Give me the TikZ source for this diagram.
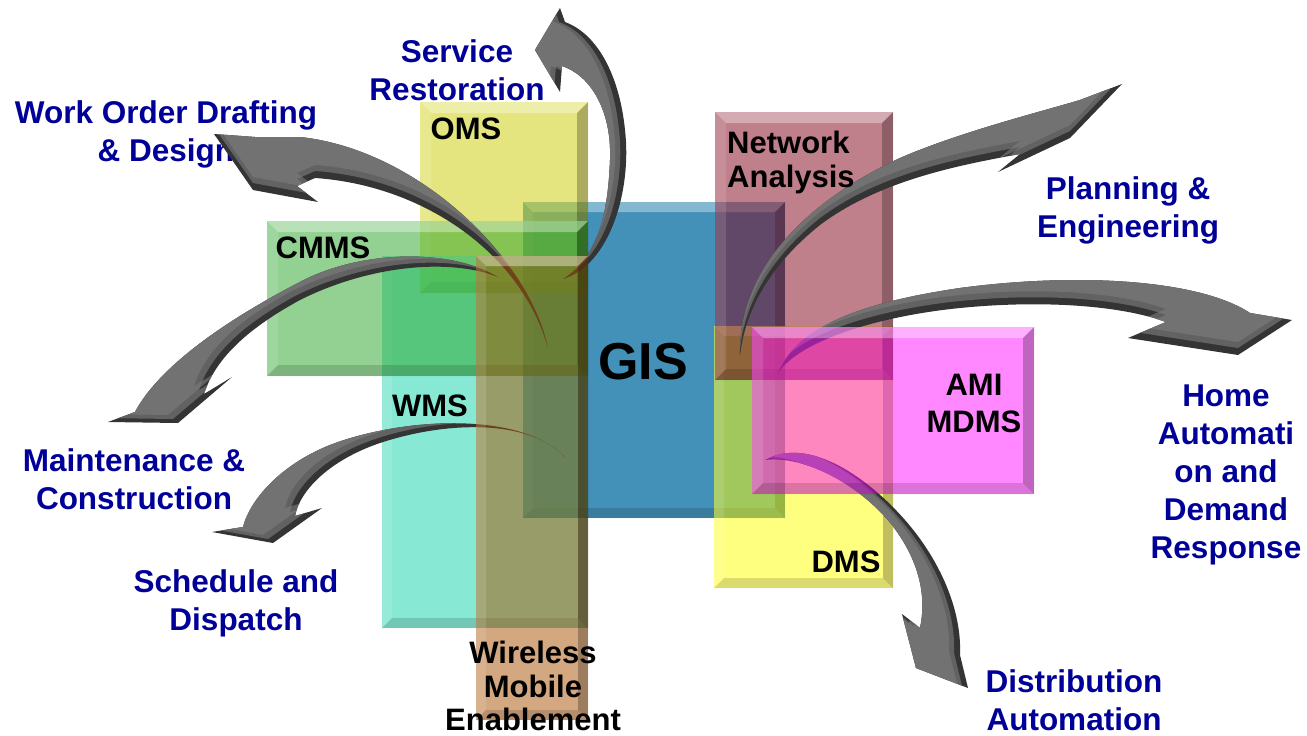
\documentclass[tikz,border=0pt]{standalone}
\usepackage{fontspec}
\setmainfont{Liberation Sans}

% box colours (used at half opacity, GIS opaque)
\definecolor{gisc}{RGB}{67,145,185}
\definecolor{omsc}{RGB}{205,205,0}
\definecolor{wmsc}{RGB}{17,213,169}
\definecolor{cmmsc}{RGB}{39,165,39}
\definecolor{dmsc}{RGB}{255,255,0}
\definecolor{netc}{RGB}{129,1,25}
\definecolor{wirec}{RGB}{169,81,1}
\definecolor{amic}{RGB}{255,17,255}
\definecolor{navyc}{RGB}{0,0,153}
\definecolor{arrdark}{RGB}{52,52,52}
\definecolor{arrlight}{RGB}{98,98,98}
\definecolor{arrtop}{RGB}{125,125,125}

% bevelled edge of a box node: #1 node name, #2 bevel width
\newcommand\bevelbox[2]{%
  \fill[white,fill opacity=.35] (#1.north west) -- (#1.north east)
    -- ([xshift=-#2pt,yshift=-#2pt]#1.north east) -- ([xshift=#2pt,yshift=-#2pt]#1.north west) -- cycle;
  \fill[white,fill opacity=.12] (#1.north west) -- ([xshift=#2pt,yshift=-#2pt]#1.north west)
    -- ([xshift=#2pt,yshift=#2pt]#1.south west) -- (#1.south west) -- cycle;
  \fill[black,fill opacity=.25] (#1.north east) -- (#1.south east)
    -- ([xshift=-#2pt,yshift=#2pt]#1.south east) -- ([xshift=-#2pt,yshift=-#2pt]#1.north east) -- cycle;
  \fill[black,fill opacity=.14] (#1.south west) -- (#1.south east)
    -- ([xshift=-#2pt,yshift=#2pt]#1.south east) -- ([xshift=#2pt,yshift=#2pt]#1.south west) -- cycle;
}

% outlines of the curved 3D arrows (tail -> head -> back to tail)
\def\pathSR{(563,279) .. controls (610,265) and (632,190) .. (625,130)
  .. controls (620,80) and (600,35) .. (565,22) -- (560,8) -- (535,50) -- (560,92) -- (562,66)
  .. controls (590,75) and (612,110) .. (610,160) .. controls (608,210) and (600,255) .. (563,279) -- cycle}
\def\pathWO{(548,348) .. controls (530,260) and (420,150) .. (300,137) -- (255,137) -- (214,134)
  -- (253,190) -- (318,202) -- (297,186) -- (315,178)
  .. controls (420,185) and (520,250) .. (548,348) -- cycle}
\def\pathMC{(498,277) .. controls (450,248) and (360,250) .. (300,282)
  .. controls (230,318) and (160,365) .. (135,412) -- (108,422) -- (178,423) -- (232,377) -- (204,394)
  .. controls (215,360) and (245,330) .. (300,300) .. controls (370,265) and (450,258) .. (498,277) -- cycle}
\def\pathSD{(565,457) .. controls (520,410) and (400,418) .. (330,445)
  .. controls (280,465) and (250,500) .. (243,527) -- (212,532) -- (273,543) -- (322,508) -- (295,516)
  .. controls (300,490) and (330,460) .. (380,443) .. controls (450,420) and (530,420) .. (565,457) -- cycle}
\def\pathPE{(740,356) .. controls (738,260) and (820,195) .. (900,158)
  .. controls (960,132) and (1040,112) .. (1080,100) -- (1122,84) -- (1070,138) -- (998,172) -- (1020,154)
  .. controls (960,165) and (880,180) .. (820,225) .. controls (770,265) and (745,310) .. (740,356) -- cycle}
\def\pathHA{(778,373) .. controls (800,320) and (880,300) .. (960,288)
  .. controls (1080,272) and (1200,280) .. (1250,313) -- (1292,320) -- (1238,355) -- (1128,338) -- (1166,322)
  .. controls (1120,305) and (1040,300) .. (960,308) .. controls (880,316) and (800,340) .. (778,373) -- cycle}
\def\pathDA{(765,460) .. controls (810,435) and (870,480) .. (905,520)
  .. controls (940,560) and (962,610) .. (960,655) -- (968,688) -- (916,668) -- (902,614) -- (920,628)
  .. controls (928,590) and (915,555) .. (892,525) .. controls (860,485) and (805,455) .. (765,460) -- cycle}

% dark extruded body, then the top face shifted by #2 and clipped to the body,
% with a lighter sheen shifted a little further
\newcommand\solidarrow[3]{%
  \fill[arrdark] #1;
  \begin{scope}
    \clip #1;
    \fill[arrlight, shift={#2}] #1;
    \fill[arrtop, fill opacity=.6, shift={#3}] #1;
  \end{scope}
}

\begin{document}
\begin{tikzpicture}[x=1pt,y=-1pt,
  box/.style={draw=none, inner sep=0pt, outer sep=0pt, fill opacity=0.5},
  boxlabel/.style={font=\fontsize{31}{34}\selectfont\bfseries, text=black, inner sep=0pt, align=center},
  outlabel/.style={font=\fontsize{31.5}{38}\selectfont\bfseries, text=navyc, inner sep=0pt, align=center}]
\useasboundingbox (0,0) rectangle (1307,736);
\fill[white] (0,0) rectangle (1307,736);

% outer labels
\node[outlabel] (srL) at (457,70) {Service\\Restoration};
\node[outlabel] (woL) at (166,134) {Work Order Drafting\\\& Design};
\node[outlabel] (peL) at (1128,210) {Planning \&\\Engineering};
\node[outlabel] (haL) at (1226,475) {Home\\Automati\\on and\\Demand\\Response};
\node[outlabel] (daL) at (1074,700) {Distribution\\Automation};
\node[outlabel] (mcL) at (134,479) {Maintenance \&\\Construction};
\node[outlabel] (sdL) at (236,603) {Schedule and\\Dispatch};

% system boxes
\node[box, fill=gisc, fill opacity=1, minimum width=262, minimum height=316] (gis) at (654,360) {};
\bevelbox{gis}{10}
\node[box, fill=omsc, minimum width=168, minimum height=191] (oms) at (504,197.5) {};
\bevelbox{oms}{11}
\node[box, fill=wmsc, minimum width=206, minimum height=372] (wms) at (485,442) {};
\bevelbox{wms}{10}
\node[box, fill=cmmsc, minimum width=321, minimum height=155] (cmms) at (427.5,298.5) {};
\bevelbox{cmms}{11}
\node[box, fill=dmsc, minimum width=179, minimum height=262] (dms) at (803.5,457) {};
\bevelbox{dms}{10}
\node[box, fill=netc, minimum width=178, minimum height=268] (net) at (804,246) {};
\bevelbox{net}{11}

% arrows out of the central systems
\solidarrow{\pathSR}{(-6,0)}{(-11,0)}
\solidarrow{\pathWO}{(0,-7)}{(0,-13)}
\solidarrow{\pathMC}{(-5,-4)}{(-10,-8)}
\solidarrow{\pathSD}{(-5,-4)}{(-10,-8)}
\solidarrow{\pathPE}{(0,-7)}{(0,-13)}
\solidarrow{\pathHA}{(0,-7)}{(0,-13)}
\solidarrow{\pathDA}{(-6,-2)}{(-11,-4)}

% boxes lying over the arrow tails
\node[box, fill=wirec, minimum width=112, minimum height=464] (wire) at (532,488) {};
\bevelbox{wire}{10}
\node[box, fill=amic, minimum width=282, minimum height=167] (ami) at (893,410.5) {};
\bevelbox{ami}{11}

% box labels
\node[boxlabel] (omsL) at (466,129) {OMS};
\node[boxlabel] (cmmsL) at (323,248) {CMMS};
\node[boxlabel] (wmsL) at (430,406) {WMS};
\node[boxlabel, anchor=west, align=left] (netL) at (727,162) {Network\\Analysis};
\node[boxlabel, font=\fontsize{31}{37}\selectfont\bfseries] (amiL) at (974,403) {AMI\\MDMS};
\node[boxlabel] (dmsL) at (846,562) {DMS};
\node[boxlabel, font=\fontsize{31}{33.5}\selectfont\bfseries] (wireL) at (533,686) {Wireless\\Mobile\\Enablement};
\node[boxlabel, font=\fontsize{52}{60}\selectfont\bfseries] (gisL) at (643,362) {GIS};
\end{tikzpicture}
\end{document}
